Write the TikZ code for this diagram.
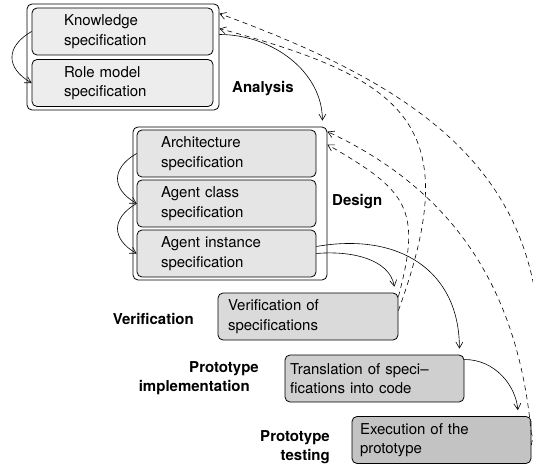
\documentclass[tikz,border=0pt]{standalone}
\usepackage{fontspec}
\setmainfont{TeX Gyre Heros}
\usepackage{tikz}
\usetikzlibrary{arrows.meta,calc}

\definecolor{specA}{gray}{0.93}
\definecolor{specB}{gray}{0.90}
\definecolor{specC}{gray}{0.855}
\definecolor{specD}{gray}{0.81}
\definecolor{specE}{gray}{0.765}

\begin{document}
\begin{tikzpicture}[
    x=1pt, y=1pt,
    >={Straight Barb[length=6pt,width=7pt]},
    every node/.style={font=\fontsize{15}{19.5}\selectfont},
    phase/.style={font=\fontsize{15}{19.5}\selectfont\bfseries, inner sep=0pt},
    group/.style={draw, rounded corners=5pt, line width=.8pt},
    spec/.style={draw, rounded corners=5pt, line width=.8pt,
        minimum height=47pt, inner ysep=0pt, align=left},
    refine/.style={->, line width=.6pt},
    flow/.style={->, line width=.6pt, shorten >=6pt},
    feedback/.style={->, line width=.6pt, dash pattern=on 5pt off 4pt},
    ]

    \useasboundingbox (0,0) rectangle (533,-465);

    % Analysis
    \node[group, minimum width=192pt, minimum height=106pt] (analysis) at (123,-57) {};
    \node[spec, fill=specA, inner xsep=32pt, text width=117pt] (knowledge)
        at (122.5,-31.5) {Knowledge\\specification};
    \node[spec, fill=specA, inner xsep=32pt, text width=117pt] (rolemodel)
        at (122.5,-83) {Role model\\specification};
    \node[phase, anchor=west] (analysislabel) at (232,-89) {Analysis};

    % Design
    \node[group, minimum width=194pt, minimum height=153pt] (design) at (230,-203.5) {};
    \node[spec, fill=specB, inner xsep=24pt, text width=131pt] (architecture)
        at (226.5,-153.5) {Architecture\\specification};
    \node[spec, fill=specB, inner xsep=24pt, text width=131pt] (agentclass)
        at (226.5,-203.5) {Agent class\\specification};
    \node[spec, fill=specB, inner xsep=24pt, text width=131pt] (agentinstance)
        at (226.5,-253.5) {Agent instance\\specification};
    \node[phase, anchor=west] (designlabel) at (332,-202) {Design};

    % Verification
    \node[spec, fill=specC, inner xsep=10pt, text width=160pt] (verification)
        at (308,-316.5) {Verification of\\specifications};
    \node[phase, anchor=east] (verificationlabel) at (194,-319) {Verification};

    % Prototype implementation
    \node[spec, fill=specD, inner xsep=5pt, text width=169pt] (translation)
        at (374.5,-378.5) {Translation of speci--\\fications into code};
    \node[phase, anchor=east, align=right] (implementationlabel)
        at (259,-378) {Prototype\\implementation\hspace*{9pt}};

    % Prototype testing
    \node[spec, fill=specE, inner xsep=8pt, text width=163pt] (execution)
        at (441.5,-440) {Execution of the\\prototype};
    \node[phase, anchor=east, align=right] (testinglabel)
        at (330,-447) {Prototype\\testing};

    % Refinement inside a phase
    \draw[refine] (knowledge.west) to[out=210, in=150, looseness=1.5] (rolemodel.west);
    \draw[refine] (architecture.west) to[out=210, in=150, looseness=1.5] (agentclass.west);
    \draw[refine] (agentclass.west) to[out=210, in=150, looseness=1.5] (agentinstance.west);

    % Flow from phase to phase
    \draw[flow] ($(analysis.east |- knowledge.east)+(0,-3)$)
        to[out=0, in=90] ([xshift=-5pt]design.north east);
    \draw[flow] (agentinstance.east)
        to[out=5, in=100] ([xshift=-3pt]verification.north east);
    \draw[flow] ([yshift=7pt]agentinstance.east)
        to[out=10, in=90, looseness=1.2] ([xshift=-5pt]translation.north east);
    \draw[flow] ([yshift=19pt]translation.east)
        to[out=0, in=95] ([xshift=-13pt]execution.north east);

    % Feedback
    \draw[feedback] ([yshift=-4pt]verification.north east)
        to[out=75, in=-30, looseness=1.4] ([yshift=-18pt]design.north east);
    \draw[feedback] ([yshift=6pt]verification.east)
        to[out=70, in=-15, looseness=1.5] ([yshift=-25pt]analysis.north east);
    \draw[feedback] ([yshift=5pt]execution.east)
        to[out=95, in=-25] ([yshift=-5pt]design.north east);
    \draw[feedback] ([yshift=-5pt]execution.east)
        to[out=80, in=-20, looseness=1.2] ([yshift=-10pt]analysis.north east);

\end{tikzpicture}
\end{document}
